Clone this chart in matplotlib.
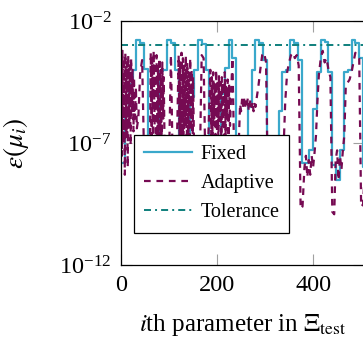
import numpy as np
import matplotlib
matplotlib.use('Agg')
import matplotlib.pyplot as plt
from matplotlib.ticker import FixedLocator, LogFormatterSciNotation, NullLocator

plt.rcParams['font.family'] = ['Liberation Serif', 'DejaVu Serif']
plt.rcParams['mathtext.fontset'] = 'stix'

# Fixed basis: error is constant over blocks of 8 test parameters
BLOCK = 8
fixed_err = [
    1.5e-8, 1.5e-6, 2.5e-5, 1e-4, 1.6e-3, 1.3e-3, 1.1e-4, 2e-8,
    1e-8, 3e-8, 9e-5, 1e-4, 1.6e-3, 1.2e-3, 1e-4, 1.5e-8,
    2e-8, 5e-8, 8e-6, 1e-4, 1.6e-3, 1.1e-3, 1e-4, 2e-8,
    1e-8, 2e-8, 1e-5, 1.2e-4, 1.6e-3, 3e-4, 2e-8, 1e-8,
    1e-8, 3e-6, 1e-4, 1.6e-3, 1.2e-3, 2.5e-4, 2e-8, 1.5e-8,
    1.5e-8, 2e-6, 8e-5, 1e-4, 1.6e-3, 1.3e-3, 2.5e-4, 1.5e-8,
    1.5e-8, 5e-8, 2.5e-6, 8e-5, 1.6e-3, 1.4e-3, 8e-5, 1.2e-8,
    3e-9, 5e-8, 8e-5, 1e-4, 1.6e-3, 1.3e-3, 3e-4, 1e-8,
]

# Adaptive basis: parameter index and error
adaptive_idx = [
    0, 2, 3, 5, 6, 8, 9, 11, 12, 14, 15, 17, 18, 20, 21, 23, 24, 26, 27, 29, 31, 33,
    36, 40, 44, 48, 52, 56, 60,
    62, 64, 65, 67, 68, 70, 71, 73, 74, 76, 77, 79, 80, 82, 83, 85, 86, 88, 89, 91,
    96, 100, 104, 108, 112, 116,
    120, 122, 123, 125, 126, 128, 129, 131, 132, 134, 135, 137, 138, 140, 141, 143,
    144, 146, 147, 149, 150, 152,
    156, 160, 164, 168, 172, 176, 180,
    186, 188, 189, 191, 192, 194, 195, 197, 198, 200, 201, 203, 204, 206, 207, 209,
    210, 212, 213, 215, 216, 218, 219, 221, 222, 224, 225, 227,
    232, 236, 240, 244,
    248, 250, 252, 254, 256, 258, 260, 262, 264, 266, 268, 270, 272, 274, 276, 278, 280, 282,
    286, 290, 294, 298, 302, 306, 310, 316, 322, 328, 334,
    338, 342, 346, 350, 354, 358, 362, 366, 370, 374, 378,
    382, 385, 388, 391, 394, 397, 400, 403, 406, 409, 412, 416, 420, 424, 428, 432, 436, 440, 444,
    447, 450, 453, 456, 459, 462, 465, 468, 472, 476, 480, 484, 488, 492, 496, 500, 504, 508,
]
adaptive_err = [
    4e-4, 3e-8, 6e-4, 1e-7, 3e-4, 5e-9, 5e-4, 2e-7, 2e-4, 1e-8, 4e-4, 5e-7, 1.5e-4, 8e-8, 3e-4, 2e-6, 1e-4, 3e-7, 5e-5, 1e-6, 2e-5, 4e-7,
    1e-6, 8e-5, 2.5e-4, 3e-8, 1e-8, 5e-9, 2e-8,
    5e-4, 2e-7, 3e-4, 1e-8, 6e-4, 5e-7, 2e-4, 3e-8, 4e-4, 1e-7, 1.5e-4, 5e-9, 3e-4, 2e-7, 1e-4, 6e-8, 2e-4, 1e-6, 5e-5, 3e-8,
    1e-8, 2e-8, 4e-4, 5e-9, 1e-8, 3e-8,
    4e-4, 1e-7, 2e-4, 3e-8, 5e-4, 2e-7, 3e-4, 1e-8, 1.5e-4, 5e-7, 4e-4, 2e-8, 2e-4, 1e-7, 8e-5, 3e-8,
    3e-4, 5e-7, 1e-4, 2e-8, 5e-5, 1e-7,
    1e-8, 2e-8, 1e-8, 4e-4, 3e-4, 5e-9, 1e-8,
    1e-4, 2e-7, 5e-5, 5e-8, 8e-5, 1e-6, 3e-5, 1e-7, 1e-4, 3e-7, 4e-5, 5e-8, 6e-5, 8e-7, 3e-5, 1e-7,
    5e-5, 5e-7, 3e-5, 3e-8, 8e-5, 2e-7, 2e-5, 1e-6, 4e-5, 1e-7, 2.5e-5, 5e-7,
    3e-4, 1e-8, 5e-9, 2e-8,
    4e-6, 2e-6, 6e-6, 3e-6, 8e-6, 2.5e-6, 5e-6, 3e-6, 7e-6, 2e-6, 4e-6, 6e-6, 3e-6, 5e-6, 2e-6, 4e-6, 3e-6, 6e-6,
    2e-5, 1e-4, 4e-4, 5e-4, 2e-4, 1e-9, 2e-9, 1e-8, 5e-9, 2e-8, 1e-8,
    3e-8, 5e-6, 8e-5, 2e-4, 4e-4, 5e-4, 3e-4, 4e-4, 1.5e-4, 2e-10, 2.5e-10,
    1e-8, 3e-8, 4e-9, 2e-8, 5e-9, 3e-8, 1e-8, 4e-8, 2e-7, 5e-6, 6e-5, 3e-4, 6e-4, 2e-4, 3e-4, 1e-4, 5e-5, 1.5e-10, 1.2e-10,
    2e-8, 5e-8, 3e-9, 3e-8, 8e-9, 5e-8, 2e-7, 2e-5, 3e-5, 4e-5, 8e-5, 2e-4, 5e-4, 4e-4, 3e-4, 2.5e-10, 3e-10, 1e-8,
]
tolerance = 1e-3

y_ticks = [1e-12, 1e-7, 1e-2]
x_ticks = [0, 200, 400]

COL_FIXED = '#3aa8cb'
COL_ADAPT = '#760a52'
COL_TOL = '#0e7f7c'

fig = plt.figure(figsize=(3.63, 3.39), dpi=100)
ax = fig.add_axes([121 / 363, 74 / 339, 243 / 363, 244 / 339])

fixed_x = np.arange(len(fixed_err) + 1) * BLOCK
ax.plot(fixed_x, fixed_err + fixed_err[-1:], drawstyle='steps-post',
        color=COL_FIXED, lw=1.6, label='Fixed')
ax.plot(adaptive_idx, adaptive_err, color=COL_ADAPT, lw=1.6,
        dashes=(3.0, 2.6), label='Adaptive')
ax.plot([0, fixed_x[-1]], [tolerance, tolerance], color=COL_TOL, lw=1.4,
        dashes=(3.6, 2.1, 1.0, 2.1), label='Tolerance')

ax.set_yscale('log')
ax.set_ylim(1e-12, 1e-2)
ax.set_xlim(0, 506)
ax.yaxis.set_major_locator(FixedLocator(y_ticks))
ax.yaxis.set_major_formatter(LogFormatterSciNotation())
ax.yaxis.set_minor_locator(NullLocator())
ax.set_xticks(x_ticks)

ax.tick_params(direction='in', length=8, width=0.8, color='#a0a0a0',
               top=True, right=True, labelsize=17.5, pad=7)
for s in ax.spines.values():
    s.set_linewidth(0.9)
    s.set_color('black')

ax.set_xlabel(r'$i$th parameter in $\Xi_{\rm test}$', fontsize=18, labelpad=12)
ax.set_ylabel(r'$\varepsilon(\mu_i)$', fontsize=19.5, labelpad=20)

leg = ax.legend(loc='upper left', bbox_to_anchor=(0.053, 0.533), borderaxespad=0,
                fontsize=14.5, handlelength=2.4, handletextpad=0.4, labelspacing=0.5,
                borderpad=0.5, fancybox=False, framealpha=1, edgecolor='black')
leg.get_frame().set_linewidth(0.9)

fig.savefig('out.png', dpi=100)
